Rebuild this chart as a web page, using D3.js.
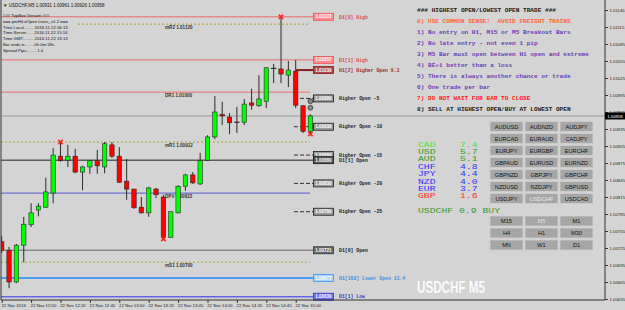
<!DOCTYPE html>
<html>
<head>
<meta charset="utf-8">
<script src="https://cdn.jsdelivr.net/npm/d3@7"></script>
<style>
  body { margin: 0; background: #d4d4d4; }
  svg { display: block; }
</style>
</head>
<body>
<svg id="chart" width="625" height="310"></svg>
<script>
/* ----------- Data ----------- */

const symbol = "USDCHF,M5";

// M5 bars, 22 Nov 2016
const barTimes = ["11:40","11:45","11:50","11:55","12:00","12:05","12:10","12:15","12:20","12:25",
    "12:30","12:35","12:40","12:45","12:50","12:55","13:00","13:05","13:10","13:15",
    "13:20","13:25","13:30","13:35","13:40","13:45","13:50","13:55","14:00","14:05",
    "14:10","14:15","14:20","14:25","14:30","14:35","14:40","14:45","14:50","14:55",
    "15:00","15:05","15:10"];

const opens = [1.00736,1.00721,1.00665,1.00730,1.00766,1.00792,1.00797,1.00822,1.00887,1.00880,
    1.00887,1.00859,1.00868,1.00879,1.00868,1.00907,1.00887,1.00843,1.00829,1.00797,
    1.00787,1.00829,1.00815,1.00744,1.00787,1.00834,1.00854,1.00838,1.00880,1.00921,
    1.00961,1.00956,1.00947,1.00947,1.00981,1.00976,1.00984,1.01042,1.01041,1.01030,
    1.01037,1.00976,1.00931];
const highs = [1.00746,1.00727,1.00732,1.00780,1.00804,1.00804,1.00849,1.00901,1.00912,1.00907,
    1.00900,1.00870,1.00880,1.00898,1.00912,1.00912,1.00903,1.00882,1.00829,1.00815,
    1.00833,1.00831,1.00819,1.00789,1.00836,1.00856,1.00859,1.00893,1.00924,1.00993,
    1.00983,1.00963,1.00974,1.00988,1.01006,1.01030,1.01044,1.01050,1.01133,1.01055,
    1.01057,1.00977,1.00961];
const lows = [1.00716,1.00654,1.00663,1.00700,1.00762,1.00781,1.00796,1.00804,1.00877,1.00868,
    1.00857,1.00827,1.00856,1.00856,1.00857,1.00884,1.00840,1.00810,1.00794,1.00786,
    1.00780,1.00813,1.00741,1.00743,1.00786,1.00826,1.00838,1.00836,1.00879,1.00917,
    1.00942,1.00926,1.00928,1.00942,1.00969,1.00974,1.00972,1.01016,1.01016,1.01009,
    1.00972,1.00928,1.00926];
const closes = [1.00721,1.00665,1.00730,1.00767,1.00787,1.00799,1.00824,1.00889,1.00879,1.00887,
    1.00859,1.00868,1.00879,1.00870,1.00909,1.00887,1.00841,1.00829,1.00796,1.00787,
    1.00831,1.00819,1.00744,1.00789,1.00834,1.00854,1.00840,1.00879,1.00921,1.00965,
    1.00958,1.00946,1.00947,1.00979,1.00977,1.00988,1.01043,1.01042,1.01032,1.01039,
    1.00977,1.00931,1.00958];

// fractal-style X markers
const markerBars = ["12:20","13:30","14:50","15:10"];
const markerSides = ["high","low","high","low"];

// axis ticks
const yTickValues = [1.01145,1.01115,1.01085,1.01055,1.01025,1.00995,1.00965,1.00935,1.00905,
    1.00875,1.00845,1.00815,1.00785,1.00755,1.00725,1.00695,1.00665,1.00635];
const xTickBars = ["11:40","12:00","12:20","12:40","13:00","13:20","13:40","14:00","14:20","14:40","15:00"];
const xTickLabels = ["22 Nov 2016","22 Nov 12:00","22 Nov 12:20","22 Nov 12:40","22 Nov 13:00",
    "22 Nov 13:20","22 Nov 13:40","22 Nov 14:00","22 Nov 14:20","22 Nov 14:40","22 Nov 15:00"];

// pivot lines
const pivotNames = ["mR2","DR1","mR1","DPV","mS1"];
const pivotPrices = [1.01120,1.01000,1.00912,1.00822,1.00700];

// open / high / low levels with right-hand labels
const levelNames = ["D1[0] High","D1[1] High","H1[2] Higher Open 9.3","Higher Open -5","Higher Open -10",
    "Higher Open -15","D1[1] Open","Higher Open -20","Higher Open -25","D1[0] Open",
    "H1[168] Lower Open 13.4","D1[1] Low"];
const levelPrices = [1.01133,1.01057,1.01039,1.00989,1.00939,1.00889,1.00880,1.00839,1.00789,
    1.00721,1.00672,1.00639];

// info text (top left)
const infoLines = ["### TopBox Version ###","=== pmHiLoOpen Lines_v1.2 ===",
    "Time Local........ 2016.11.22 06:13","Time Server...... 2016.11.22 15:14",
    "Time GMT......... 2016.11.22 13:13","Bar ends in....... 0h 0m 59s","Spread Pips........ 1.4"];

// trade rules (top right)
const ruleLines = ["### HIGHEST OPEN/LOWEST OPEN TRADE ###",
    "0) USE COMMON SENSE!  AVOID FREIGHT TRAINS",
    "1) No entry on H1, M15 or M5 Breakout Bars",
    "2) No late entry - not even 1 pip",
    "3) M5 Bar must open between H1 open and extreme",
    "4) BE+1 better than a loss",
    "5) There is always another chance or trade",
    "6) One trade per bar",
    "7) DO NOT WAIT FOR BAR TO CLOSE",
    "8) SELL AT HIGHEST OPEN/BUY AT LOWEST OPEN"];

// currency strength
const currencies = ["CAD","USD","AUD","CHF","JPY","NZD","EUR","GBP"];
const strengths = [7.4,5.7,5.1,4.8,4.4,4.0,3.7,1.6];
const signalText = "USDCHF 0.9 BUY";

// buttons
const pairButtons = ["AUDUSD","AUDNZD","AUDJPY","EURCAD","EURAUD","CADJPY","EURJPY","EURGBP","EURCHF",
    "GBPAUD","EURUSD","EURNZD","GBPNZD","GBPJPY","GBPCHF","NZDUSD","NZDJPY","GBPUSD",
    "USDJPY","USDCHF","USDCAD"];
const tfButtons = ["M15","M5","M1","H4","H1","M30","MN","W1","D1"];
const activePair = "USDCHF";
const activeTf = "M5";

/* ----------- Drawing ----------- */

const W = 625, H = 310;
const plotRight = 605, plotBottom = 300;
const fmt5 = d3.format(".5f");

const bars = barTimes.map((t, i) => ({
    t, o: opens[i], h: highs[i], l: lows[i], c: closes[i]
}));
const last = bars[bars.length - 1];
const bid = last.c;

const svg = d3.select("#chart");

svg.append("rect")
    .attr("width", W).attr("height", H)
    .attr("fill", "#d4d4d4");

// Scales
const x = d3.scalePoint().domain(barTimes).range([1.7, 310.4]);
const y = d3.scaleLinear().domain([1.00635, 1.01145]).range([299, 10]);

svg.append("defs").append("clipPath").attr("id", "plotClip")
    .append("rect")
    .attr("x", 1).attr("y", 0)
    .attr("width", plotRight - 1).attr("height", plotBottom);

const plot = svg.append("g").attr("clip-path", "url(#plotClip)");

// Pivot lines
const pivotStyle = {
    mR2: { c: "#a6a632", dash: "2,2", x0: 78, w: 1 },
    DR1: { c: "#f07070", dash: null, x0: 1, w: 1 },
    mR1: { c: "#a6a632", dash: "2,2", x0: 1, w: 1 },
    DPV: { c: "#7070d8", dash: null, x0: 1, w: 1.2 },
    mS1: { c: "#a6a632", dash: "2,2", x0: 1, w: 1 }
};

pivotNames.forEach((name, i) => {
    const s = pivotStyle[name];
    const py = y(pivotPrices[i]);
    plot.append("line")
        .attr("x1", s.x0).attr("x2", 310)
        .attr("y1", py).attr("y2", py)
        .attr("stroke", s.c)
        .attr("stroke-width", s.w)
        .attr("stroke-dasharray", s.dash);
    plot.append("text")
        .attr("x", 165).attr("y", py + 4.6)
        .style("font", "bold 4.6px 'Liberation Sans', Arial, sans-serif")
        .attr("fill", "#333")
        .text(`${name}  ${fmt5(pivotPrices[i])}`);
});

// Level lines
const levelStyle = name => {
    if (name.startsWith("D1[0] High") || name.startsWith("D1[1] High"))
        return { line: "#f06a6a", w: 1, x0: 1, box: "#ff8c8c", stroke: "#f05050", text: "#e04848" };
    if (name.startsWith("H1[2]"))
        return { line: "#8c1c1c", w: 2, x0: 296, box: "#b04a4a", stroke: "#801818", text: "#9a2a2a" };
    if (name.startsWith("Higher Open"))
        return { line: "#333", w: 1, x0: 294, dash: "4,2", box: "#9c9c9c", stroke: "#1a1a1a", text: "#222" };
    if (name === "D1[1] Open")
        return { line: "#222", w: 1, x0: 1, box: "#5a5a5a", stroke: "#111", text: "#222" };
    if (name === "D1[0] Open")
        return { line: "#8a8a8a", w: 1.5, x0: 1, box: "#6c6c6c", stroke: "#333", text: "#222" };
    if (name.startsWith("H1[168]"))
        return { line: "#1e8cff", w: 1.5, x0: 1, box: "#a8d0f8", stroke: "#3c96f0", text: "#3c8ee8" };
    return { line: "#6464e6", w: 1.5, x0: 1, box: "#6a6af0", stroke: "#3434c8", text: "#3838c8" };
};

levelNames.forEach((name, i) => {
    const s = levelStyle(name);
    const ly = y(levelPrices[i]);
    plot.append("line")
        .attr("x1", s.x0).attr("x2", 313)
        .attr("y1", ly).attr("y2", ly)
        .attr("stroke", s.line)
        .attr("stroke-width", s.w)
        .attr("stroke-dasharray", s.dash || null);
});

// Bid line
plot.append("line")
    .attr("x1", 1).attr("x2", plotRight)
    .attr("y1", y(bid)).attr("y2", y(bid))
    .attr("stroke", "#9a9a9a")
    .attr("stroke-width", 1);

// Candles
const bodyW = 4.4;
const candle = plot.selectAll(".candle")
    .data(bars)
    .enter().append("g")
    .attr("class", "candle");

candle.append("line")
    .attr("x1", d => x(d.t)).attr("x2", d => x(d.t))
    .attr("y1", d => y(d.h)).attr("y2", d => y(d.l))
    .attr("stroke", "#2a2a2a")
    .attr("stroke-width", 1);

candle.filter(d => d.o !== d.c).append("rect")
    .attr("x", d => x(d.t) - bodyW / 2)
    .attr("width", bodyW)
    .attr("y", d => y(Math.max(d.o, d.c)))
    .attr("height", d => Math.max(1, Math.abs(y(d.o) - y(d.c))))
    .attr("fill", d => d.c > d.o ? "#00ff00" : "#ff0000")
    .attr("stroke", "#2a2a2a")
    .attr("stroke-width", 0.6);

candle.filter(d => d.o === d.c).append("line")
    .attr("x1", d => x(d.t) - bodyW / 2 - 0.5)
    .attr("x2", d => x(d.t) + bodyW / 2 + 0.5)
    .attr("y1", d => y(d.o)).attr("y2", d => y(d.o))
    .attr("stroke", "#111")
    .attr("stroke-width", 1);

// X markers
markerBars.forEach((t, i) => {
    const b = bars[barTimes.indexOf(t)];
    const mx = x(t);
    const my = y(markerSides[i] === "high" ? b.h : b.l);
    const r = 2.2;
    plot.append("path")
        .attr("d", `M${mx - r},${my - r}L${mx + r},${my + r}M${mx + r},${my - r}L${mx - r},${my + r}`)
        .attr("stroke", "#ff2020")
        .attr("stroke-width", 1.6);
});

// circles above the current bar
[6.5, 13].forEach(off => {
    plot.append("circle")
        .attr("cx", x(last.t))
        .attr("cy", y(last.h) - off)
        .attr("r", 2.4)
        .attr("fill", "#8a8a8a")
        .attr("stroke", "#333")
        .attr("stroke-width", 0.8);
});

// Level label boxes + names
levelNames.forEach((name, i) => {
    const s = levelStyle(name);
    const ly = y(levelPrices[i]);
    svg.append("rect")
        .attr("x", 313.5).attr("y", ly - 3.5)
        .attr("width", 20).attr("height", 7)
        .attr("fill", s.box)
        .attr("stroke", s.stroke)
        .attr("stroke-width", 0.8);
    svg.append("text")
        .attr("x", 323.5).attr("y", ly + 1.6)
        .attr("text-anchor", "middle")
        .style("font", "bold 4.5px 'Liberation Sans', Arial, sans-serif")
        .attr("fill", "#fff")
        .text(fmt5(levelPrices[i]));
    svg.append("text")
        .attr("x", 339).attr("y", ly + 1.7)
        .style("font", "bold 4.8px 'Liberation Mono', 'Courier New', monospace")
        .attr("fill", s.text)
        .text(name);
});

// Frame / axes
svg.append("line")
    .attr("x1", 1).attr("x2", 1)
    .attr("y1", 0).attr("y2", plotBottom)
    .attr("stroke", "#333");

svg.append("line")
    .attr("x1", plotRight).attr("x2", plotRight)
    .attr("y1", 0).attr("y2", plotBottom)
    .attr("stroke", "#333");

svg.append("line")
    .attr("x1", 1).attr("x2", plotRight)
    .attr("y1", plotBottom).attr("y2", plotBottom)
    .attr("stroke", "#333");

const yAxis = d3.axisRight(y)
    .tickValues(yTickValues)
    .tickFormat(fmt5)
    .tickSize(3)
    .tickPadding(1.5)
    .tickSizeOuter(0);

const yAxisG = svg.append("g")
    .attr("transform", `translate(${plotRight},0)`)
    .call(yAxis);
yAxisG.select(".domain").remove();
yAxisG.selectAll("line").attr("stroke", "#333");
yAxisG.selectAll("text")
    .style("font", "4.3px 'Liberation Sans', Arial, sans-serif")
    .attr("fill", "#222");

const xAxis = d3.axisBottom(x)
    .tickValues(xTickBars)
    .tickFormat((d, i) => xTickLabels[i])
    .tickSize(3)
    .tickPadding(1.2)
    .tickSizeOuter(0);

const xAxisG = svg.append("g")
    .attr("transform", `translate(0,${plotBottom})`)
    .call(xAxis);
xAxisG.select(".domain").remove();
xAxisG.selectAll("line").attr("stroke", "#333");
xAxisG.selectAll("text")
    .attr("text-anchor", "start")
    .attr("dx", "-0.8")
    .style("font", "4.3px 'Liberation Sans', Arial, sans-serif")
    .attr("fill", "#222");

// Bid box on the price axis
svg.append("rect")
    .attr("x", plotRight).attr("y", y(bid) - 3.5)
    .attr("width", 20).attr("height", 7)
    .attr("fill", "#000");
svg.append("text")
    .attr("x", plotRight + 10).attr("y", y(bid) + 1.6)
    .attr("text-anchor", "middle")
    .style("font", "4.3px 'Liberation Sans', Arial, sans-serif")
    .attr("fill", "#fff")
    .text(fmt5(bid));

// Title + info text (top left)
svg.append("text")
    .attr("x", 3).attr("y", 6.5)
    .style("font", "4.5px 'Liberation Sans', Arial, sans-serif")
    .attr("fill", "#111")
    .text(`\u25BC ${symbol}  ${fmt5(last.o)} ${fmt5(last.h)} ${fmt5(last.l)} ${fmt5(last.c)}`);

infoLines.forEach((line, i) => {
    svg.append("text")
        .attr("x", 3).attr("y", 17.3 + i * 5.7)
        .style("font", "4.3px 'Liberation Sans', Arial, sans-serif")
        .attr("fill", "#111")
        .text(line);
});

// Rules text (top right)
const ruleColor = i => i === 0 || i === 9 ? "#1a1a1a"
    : i === 1 ? "#ff6633"
    : i === 8 ? "#ff2020"
    : "#6a3cb8";

ruleLines.forEach((line, i) => {
    svg.append("text")
        .attr("x", 417).attr("y", 12.2 + i * 11)
        .style("font", "bold 6.1px 'Liberation Mono', 'Courier New', monospace")
        .attr("fill", ruleColor(i))
        .attr("xml:space", "preserve")
        .text(line);
});

// Currency strength
const strengthColor = v => v >= 7 ? "#3ee63e" : v >= 5 ? "#2f9a2f" : v >= 3 ? "#3030ff" : "#ff3030";
const monoFont = "7.6px 'Liberation Mono', 'Courier New', monospace";

currencies.forEach((cur, i) => {
    const cy = 146.6 + i * 7.4;
    svg.append("text")
        .attr("x", 418).attr("y", cy)
        .attr("textLength", 17.6)
        .attr("lengthAdjust", "spacingAndGlyphs")
        .style("font", monoFont)
        .attr("fill", strengthColor(strengths[i]))
        .text(cur);
    svg.append("text")
        .attr("x", 460).attr("y", cy)
        .attr("textLength", 17.6)
        .attr("lengthAdjust", "spacingAndGlyphs")
        .style("font", monoFont)
        .attr("fill", strengthColor(strengths[i]))
        .text(strengths[i].toFixed(1));
});

svg.append("text")
    .attr("x", 418).attr("y", 212.8)
    .attr("textLength", 82)
    .attr("lengthAdjust", "spacingAndGlyphs")
    .style("font", monoFont)
    .attr("fill", "#2f9a2f")
    .attr("xml:space", "preserve")
    .text(signalText);

// Buttons
const colX = [490, 525, 560];
const btnW = 33, btnH = 10;

function drawButtons(labels, top, active) {
    labels.forEach((lab, i) => {
        const bx = colX[i % 3];
        const by = top + Math.floor(i / 3) * 12;
        svg.append("rect")
            .attr("x", bx).attr("y", by)
            .attr("width", btnW).attr("height", btnH)
            .attr("fill", "#a6a6a6")
            .attr("stroke", "#cfcfcf")
            .attr("stroke-width", 0.8);
        svg.append("text")
            .attr("x", bx + btnW / 2).attr("y", by + 7.1)
            .attr("text-anchor", "middle")
            .style("font", "5.6px 'Liberation Sans', Arial, sans-serif")
            .attr("fill", lab === active ? "#e6e6e6" : "#111")
            .text(lab);
    });
}

drawButtons(pairButtons, 121.5, activePair);
drawButtons(tfButtons, 216, activeTf);

// Big symbol label
svg.append("text")
    .attr("x", 417).attr("y", 293)
    .attr("textLength", 68)
    .attr("lengthAdjust", "spacingAndGlyphs")
    .style("font", "bold 17px 'Liberation Sans', Arial, sans-serif")
    .attr("fill", "#fafafa")
    .text("USDCHF M5");
</script>
</body>
</html>
